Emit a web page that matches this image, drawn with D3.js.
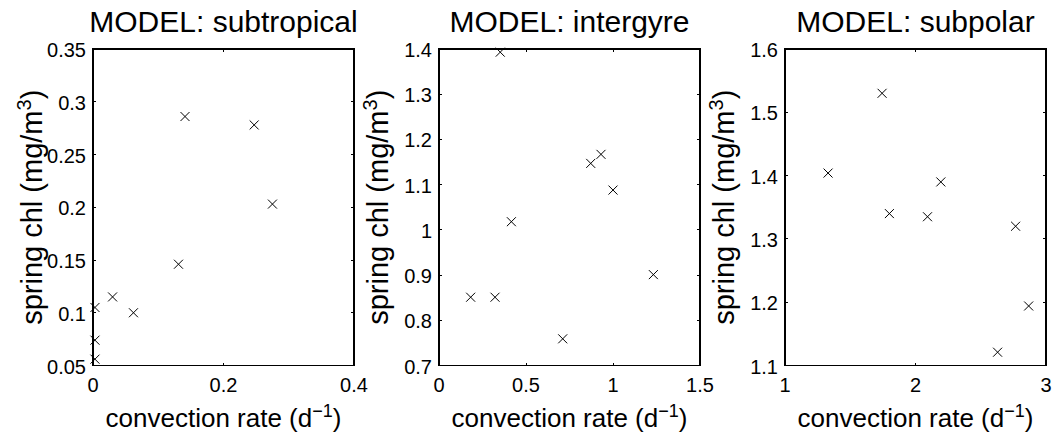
<!DOCTYPE html>
<html>
    <head>
        <meta charset="utf-8">
        <script src="https://d3js.org/d3.v7.min.js"></script>
        <style>
            body {
                margin: 0;
                background: #ffffff;
            }

            #chart-svg .font {
                font-family: "Liberation Sans", Arial, Helvetica, sans-serif;
                fill: #000000;
            }

            #chart-svg .title {
                font-size: 30px;
            }

            #chart-svg .x-axis-label {
                font-size: 26px;
            }

            #chart-svg .y-axis-label {
                font-size: 29px;
            }

            #chart-svg .tick-label {
                font-size: 20px;
            }

            #chart-svg .frame {
                fill: none;
                stroke: #000000;
                stroke-width: 1.5;
                shape-rendering: crispEdges;
            }

            #chart-svg .tick-mark {
                stroke: #000000;
                stroke-width: 1;
                shape-rendering: crispEdges;
            }

            #chart-svg .marker {
                stroke: #000000;
                stroke-width: 1;
            }
        </style>
    </head>
    <body>

        <script>

            const SVG_WIDTH = 1053;
            const SVG_HEIGHT = 436;
            const PLOT_TOP = 49;
            const PLOT_BOTTOM = 365.5;
            const PLOT_WIDTH = 261;
            const PLOT_LEFTS = [93, 439, 785];
            const TICK_LEN = 3;
            const MARKER_HALF = 4.5;

            const PANEL_TITLES = ["MODEL: subtropical", "MODEL: intergyre", "MODEL: subpolar"];

            // convection rate (d^-1) / spring chl (mg/m^3)
            const subtropicalRate = [0.003, 0.003, 0.003, 0.030, 0.062, 0.131, 0.141, 0.247, 0.275];
            const subtropicalChl = [0.056, 0.074, 0.105, 0.115, 0.100, 0.146, 0.286, 0.278, 0.203];

            const intergyreRate = [0.182, 0.322, 0.352, 0.416, 0.711, 0.872, 0.931, 1.000, 1.232];
            const intergyreChl = [0.851, 0.851, 1.393, 1.018, 0.759, 1.147, 1.167, 1.088, 0.901];

            const subpolarRate = [1.330, 1.744, 1.800, 2.092, 2.194, 2.629, 2.767, 2.867];
            const subpolarChl = [1.404, 1.530, 1.340, 1.335, 1.390, 1.121, 1.320, 1.194];

            const X_DOMAINS = [[0, 0.4], [0, 1.5], [1, 3]];
            const Y_DOMAINS = [[0.05, 0.35], [0.7, 1.4], [1.1, 1.6]];
            const X_TICKS = [
                [0, 0.2, 0.4],
                [0, 0.5, 1, 1.5],
                [1, 2, 3]
            ];
            const Y_TICKS = [
                [0.05, 0.1, 0.15, 0.2, 0.25, 0.3, 0.35],
                [0.7, 0.8, 0.9, 1, 1.1, 1.2, 1.3, 1.4],
                [1.1, 1.2, 1.3, 1.4, 1.5, 1.6]
            ];

            var panelRates = [subtropicalRate, intergyreRate, subpolarRate];
            var panelChl = [subtropicalChl, intergyreChl, subpolarChl];

            var tickFormat = function(d) {
                return String(+d.toFixed(2));
            };

            var svg = d3.select("body")
                .append("svg")
                .attr("width", SVG_WIDTH)
                .attr("height", SVG_HEIGHT)
                .attr("id", "chart-svg");

            for (var p = 0; p < 3; p++) {
                var left = PLOT_LEFTS[p];
                var right = left + PLOT_WIDTH;
                var xScale = d3.scaleLinear()
                    .domain(X_DOMAINS[p])
                    .range([left, right]);
                var yScale = d3.scaleLinear()
                    .domain(Y_DOMAINS[p])
                    .range([PLOT_BOTTOM, PLOT_TOP]);

                var panel = svg.append("g");

                // inward ticks on all four sides, like a boxed matlab axes
                panel.selectAll("xtick-bottom")
                    .data(X_TICKS[p])
                    .enter()
                    .append("line")
                    .classed("tick-mark", true)
                    .attr("x1", function(d) { return xScale(d); })
                    .attr("x2", function(d) { return xScale(d); })
                    .attr("y1", PLOT_BOTTOM)
                    .attr("y2", PLOT_BOTTOM - TICK_LEN);
                panel.selectAll("xtick-top")
                    .data(X_TICKS[p])
                    .enter()
                    .append("line")
                    .classed("tick-mark", true)
                    .attr("x1", function(d) { return xScale(d); })
                    .attr("x2", function(d) { return xScale(d); })
                    .attr("y1", PLOT_TOP)
                    .attr("y2", PLOT_TOP + TICK_LEN);
                panel.selectAll("ytick-left")
                    .data(Y_TICKS[p])
                    .enter()
                    .append("line")
                    .classed("tick-mark", true)
                    .attr("x1", left)
                    .attr("x2", left + TICK_LEN)
                    .attr("y1", function(d) { return yScale(d); })
                    .attr("y2", function(d) { return yScale(d); });
                panel.selectAll("ytick-right")
                    .data(Y_TICKS[p])
                    .enter()
                    .append("line")
                    .classed("tick-mark", true)
                    .attr("x1", right)
                    .attr("x2", right - TICK_LEN)
                    .attr("y1", function(d) { return yScale(d); })
                    .attr("y2", function(d) { return yScale(d); });

                panel.append("rect")
                    .classed("frame", true)
                    .attr("x", left)
                    .attr("y", PLOT_TOP)
                    .attr("width", PLOT_WIDTH)
                    .attr("height", PLOT_BOTTOM - PLOT_TOP);

                panel.selectAll("xlabel")
                    .data(X_TICKS[p])
                    .enter()
                    .append("text")
                    .classed("font tick-label", true)
                    .attr("text-anchor", "middle")
                    .attr("x", function(d) { return xScale(d); })
                    .attr("y", PLOT_BOTTOM + 26.5)
                    .text(tickFormat);
                panel.selectAll("ylabel")
                    .data(Y_TICKS[p])
                    .enter()
                    .append("text")
                    .classed("font tick-label", true)
                    .attr("text-anchor", "end")
                    .attr("dominant-baseline", "central")
                    .attr("x", left - 7)
                    .attr("y", function(d) { return yScale(d) + 1; })
                    .text(tickFormat);

                panel.append("text")
                    .classed("font title", true)
                    .attr("text-anchor", "middle")
                    .attr("x", (left + right) / 2)
                    .attr("y", 32)
                    .text(PANEL_TITLES[p]);

                var xLabel = panel.append("text")
                    .classed("font x-axis-label", true)
                    .attr("text-anchor", "middle")
                    .attr("x", (left + right) / 2)
                    .attr("y", 427);
                xLabel.append("tspan").text("convection rate (d");
                xLabel.append("tspan")
                    .attr("dy", -10)
                    .style("font-size", "18px")
                    .text("\u22121");
                xLabel.append("tspan")
                    .attr("dy", 10)
                    .text(")");

                var yLabel = panel.append("text")
                    .classed("font y-axis-label", true)
                    .attr("text-anchor", "middle")
                    .attr("transform", "translate(" + (left - 51) + "," + ((PLOT_TOP + PLOT_BOTTOM) / 2) + ") rotate(-90)");
                yLabel.append("tspan").text("spring chl (mg/m");
                yLabel.append("tspan")
                    .attr("dy", -11)
                    .style("font-size", "20px")
                    .text("3");
                yLabel.append("tspan")
                    .attr("dy", 11)
                    .text(")");

                var points = panelRates[p].map(function(r, i) {
                    return {rate: r, chl: panelChl[p][i]};
                });
                panel.selectAll("marker")
                    .data(points)
                    .enter()
                    .append("path")
                    .classed("marker", true)
                    .attr("d", function(d) {
                        var cx = xScale(d.rate);
                        var cy = yScale(d.chl);
                        return "M" + (cx - MARKER_HALF) + "," + (cy - MARKER_HALF) +
                            "L" + (cx + MARKER_HALF) + "," + (cy + MARKER_HALF) +
                            "M" + (cx - MARKER_HALF) + "," + (cy + MARKER_HALF) +
                            "L" + (cx + MARKER_HALF) + "," + (cy - MARKER_HALF);
                    });
            }
        </script>
    </body>
</html>
